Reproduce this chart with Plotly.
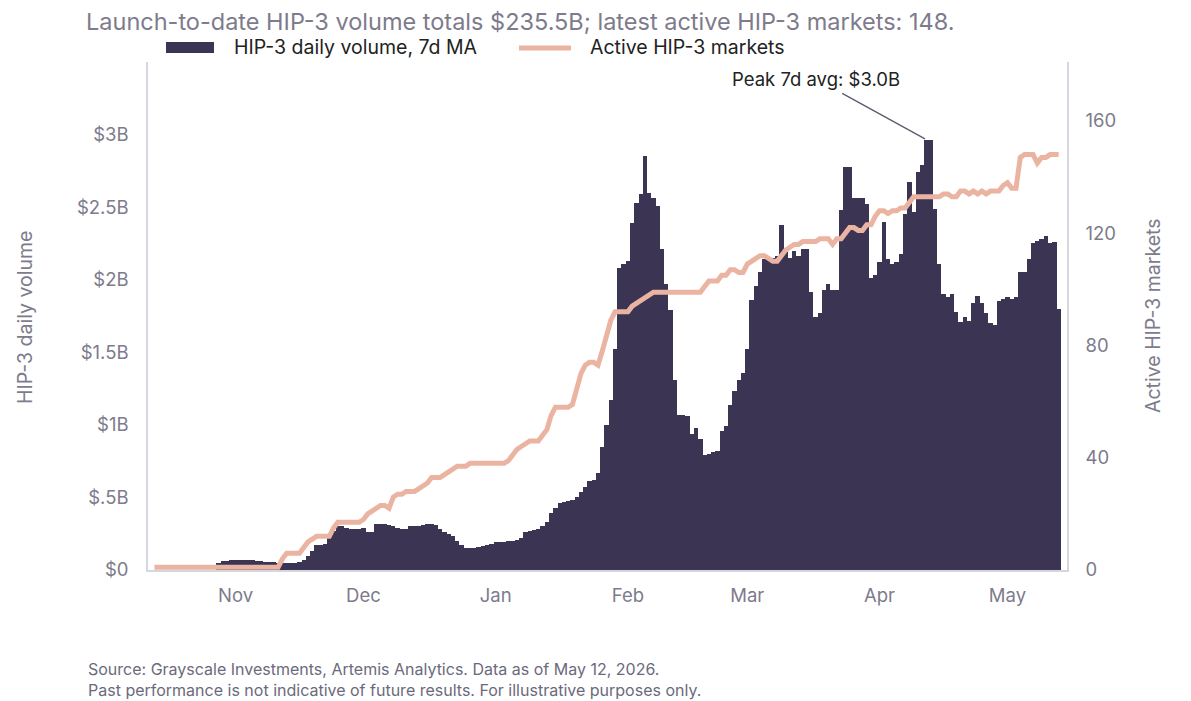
import pandas as pd
import plotly.graph_objects as go

# daily series, first day Oct 13 2025
start_date = "2025-10-13"

# HIP-3 daily volume, 7d MA ($B)
volume_bn = [
    0, 0, 0, 0, 0, 0, 0, 0, 0, 0,
    0, 0, 0, 0, 0, 0.045, 0.06, 0.065, 0.07, 0.07,
    0.072, 0.07, 0.07, 0.068, 0.062, 0.06, 0.058, 0.058, 0.056, 0.05,
    0.045, 0.045, 0.046, 0.048, 0.052, 0.07, 0.095, 0.13, 0.17, 0.175,
    0.18, 0.22, 0.27, 0.30, 0.30, 0.29, 0.28, 0.28, 0.285, 0.29,
    0.265, 0.265, 0.315, 0.32, 0.315, 0.31, 0.30, 0.29, 0.28, 0.285,
    0.30, 0.30, 0.305, 0.31, 0.32, 0.32, 0.31, 0.28, 0.265, 0.25,
    0.235, 0.20, 0.17, 0.15, 0.15, 0.15, 0.16, 0.165, 0.175, 0.18,
    0.19, 0.195, 0.195, 0.20, 0.20, 0.21, 0.22, 0.265, 0.27, 0.275,
    0.28, 0.30, 0.33, 0.39, 0.43, 0.46, 0.47, 0.475, 0.48, 0.505,
    0.54, 0.57, 0.615, 0.62, 0.665, 0.845, 1.0, 1.17, 1.52, 2.08,
    2.11, 2.13, 2.39, 2.53, 2.59, 2.855, 2.60, 2.56, 2.51, 2.21,
    1.97, 1.79, 1.31, 1.07, 1.07, 1.06, 0.94, 0.975, 0.905, 0.79,
    0.80, 0.81, 0.82, 0.96, 0.99, 1.135, 1.23, 1.31, 1.36, 1.52,
    1.86, 1.96, 2.05, 2.14, 2.15, 2.15, 2.16, 2.38, 2.19, 2.15,
    2.20, 2.16, 2.21, 2.21, 1.915, 1.74, 1.77, 1.93, 1.97, 1.93,
    1.93, 2.48, 2.78, 2.78, 2.56, 2.56, 2.56, 2.52, 2.01, 2.03,
    2.12, 2.40, 2.14, 2.11, 2.12, 2.18, 2.45, 2.67, 2.47, 2.74,
    2.79, 2.96, 2.96, 2.49, 2.105, 1.90, 1.88, 1.90, 1.78, 1.71,
    1.74, 1.715, 1.84, 1.89, 1.84, 1.77, 1.70, 1.69, 1.85, 1.87,
    1.88, 1.87, 1.88, 2.05, 2.05, 2.14, 2.25, 2.265, 2.28, 2.30,
    2.25, 2.26, 1.80,
]

# Active HIP-3 markets
active_markets = [
    1, 1, 1, 1, 1, 1, 1, 1, 1, 1,
    1, 1, 1, 1, 1, 1, 1, 1, 1, 1,
    1, 1, 1, 1, 1, 1, 1, 1, 1, 1,
    4, 6, 6, 6, 6, 8, 10, 11, 12, 12,
    12, 12, 15, 17, 17, 17, 17, 17, 17, 18,
    20, 21, 22, 23, 23, 22, 26, 27, 27, 28,
    28, 28, 29, 30, 31, 33, 33, 33, 34, 35,
    36, 37, 37, 37, 38, 38, 38, 38, 38, 38,
    38, 38, 38, 39, 41, 43, 44, 45, 46, 46,
    46, 48, 50, 55, 58, 58, 58, 58, 59, 65,
    70, 73, 74, 74, 73, 78, 84, 89, 92, 92,
    92, 92, 94, 95, 96, 97, 98, 99, 99, 99,
    99, 99, 99, 99, 99, 99, 99, 99, 99, 101,
    103, 103, 103, 105, 105, 107, 107, 106, 106, 109,
    110, 111, 112, 112, 111, 110, 110, 112, 114, 115,
    116, 116, 117, 117, 117, 117, 118, 118, 118, 116,
    118, 118, 120, 122, 122, 121, 121, 123, 123, 126,
    128, 128, 127, 128, 128, 129, 129, 131, 133, 133,
    133, 133, 133, 133, 133, 134, 134, 133, 133, 135,
    135, 134, 135, 134, 135, 134, 135, 135, 135, 137,
    138, 136, 136, 147, 148, 148, 148, 145, 147, 147,
    148, 148, 148,
]

vol_ticks = [0, 0.5, 1, 1.5, 2, 2.5, 3]
vol_ticktext = ["$0", "$.5B", "$1B", "$1.5B", "$2B", "$2.5B", "$3B"]
mkt_ticks = [0, 40, 80, 120, 160]

peak_date = "2026-04-11 16:00"
peak_value = 2.97

dates = pd.date_range(start_date, periods=len(volume_bn), freq="D")

BAR_COLOR = "#3b3452"
LINE_COLOR = "#ebb4a2"
GREY = "#7d7b8c"
FONT = "Inter"

# the page body adds an 8px margin, so the figure is drawn 8px in from the window corner
PAGE = 8
WIN_W, WIN_H = 1191, 701
W, H = WIN_W - PAGE, WIN_H - PAGE
# plot area in window pixels
PX0, PX1, PY0, PY1 = 148, 1067, 62, 570
PW, PH = PX1 - PX0, PY1 - PY0


def px_x(p):
    return (p - PX0) / PW


def px_y(p):
    return (PY1 - p) / PH


fig = go.Figure()
fig.add_trace(go.Bar(x=dates, y=volume_bn, name="HIP-3 daily volume, 7d MA",
                     width=86400000, marker=dict(color=BAR_COLOR, line=dict(width=0))))
fig.add_trace(go.Scatter(x=dates, y=active_markets, name="Active HIP-3 markets", yaxis="y2",
                         mode="lines", line=dict(color=LINE_COLOR, width=5)))

# legend drawn by hand so the symbols match
shapes = [
    dict(type="rect", xref="paper", yref="paper", x0=px_x(166), x1=px_x(214),
         y0=px_y(53), y1=px_y(42), fillcolor=BAR_COLOR, line=dict(width=0)),
    dict(type="line", xref="paper", yref="paper", x0=px_x(519), x1=px_x(571),
         y0=px_y(48), y1=px_y(48), line=dict(color=LINE_COLOR, width=5)),
]

annotations = [
    dict(text="HIP-3 daily volume, 7d MA", x=px_x(232), y=px_y(47), xanchor="left"),
    dict(text="Active HIP-3 markets", x=px_x(588), y=px_y(47), xanchor="left"),
]
for a in annotations:
    a.update(xref="paper", yref="paper", yanchor="middle", showarrow=False,
             font=dict(size=19.5, color="#222222"))

footer = ("Source: Grayscale Investments, Artemis Analytics. Data as of May 12, 2026.<br>"
          "Past performance is not indicative of future results. For illustrative purposes only.")

annotations += [
    dict(text="HIP-3 daily volume", xref="paper", yref="paper", x=px_x(25), y=px_y(318),
         xanchor="center", yanchor="middle", textangle=-90, showarrow=False,
         font=dict(size=19.5, color=GREY)),
    dict(text="Active HIP-3 markets", xref="paper", yref="paper", x=px_x(1153), y=px_y(316),
         xanchor="center", yanchor="middle", textangle=-90, showarrow=False,
         font=dict(size=19.5, color=GREY)),
    dict(text=footer, xref="paper", yref="paper", x=px_x(86), y=px_y(679), xanchor="left",
         yanchor="middle", align="left", showarrow=False, font=dict(size=16, color="#6b6a7c")),
    dict(text="Peak 7d avg: $3.0B", x=peak_date, y=peak_value, xref="x", yref="y",
         showarrow=True, arrowhead=0, arrowwidth=1.3, arrowcolor="#5b5a6c",
         ax=-109, ay=-60, startstandoff=4, font=dict(size=18.5, color="#222222")),
]

fig.update_layout(
    width=W, height=H,
    margin=dict(l=PX0 - PAGE, r=WIN_W - PX1, t=PY0 - PAGE, b=WIN_H - PY1),
    paper_bgcolor="white", plot_bgcolor="white",
    font=dict(family=FONT, color=GREY),
    title=dict(text="Launch-to-date HIP-3 volume totals $235.5B; latest active HIP-3 markets: 148.",
               x=(86 - PAGE) / W, xanchor="left", y=1 - (22 - PAGE) / H, yanchor="middle",
               font=dict(size=23.5, color=GREY)),
    showlegend=False,
    bargap=0,
    shapes=shapes,
    annotations=annotations,
    xaxis=dict(range=["2025-10-11 11:40", "2026-05-14 23:00"], dtick="M1", tick0="2025-11-01",
               tickformat="%b", showgrid=False, zeroline=False, showline=True,
               linecolor="#d6d6de", linewidth=1.5, ticks="", ticklabelstandoff=8,
               tickfont=dict(size=18.5, color=GREY)),
    yaxis=dict(range=[0, 3.5], tickvals=vol_ticks, ticktext=vol_ticktext, showgrid=False,
               zeroline=False, showline=True, linecolor="#d6d6de", linewidth=1.5, ticks="",
               ticklabelstandoff=14, tickfont=dict(size=18.5, color=GREY)),
    yaxis2=dict(range=[0, 181], tickvals=mkt_ticks, overlaying="y", side="right", showgrid=False,
                zeroline=False, showline=True, linecolor="#d6d6de", linewidth=1.5, ticks="",
                ticklabelstandoff=13, tickfont=dict(size=18.5, color=GREY)),
)

fig.write_html("out.html")
